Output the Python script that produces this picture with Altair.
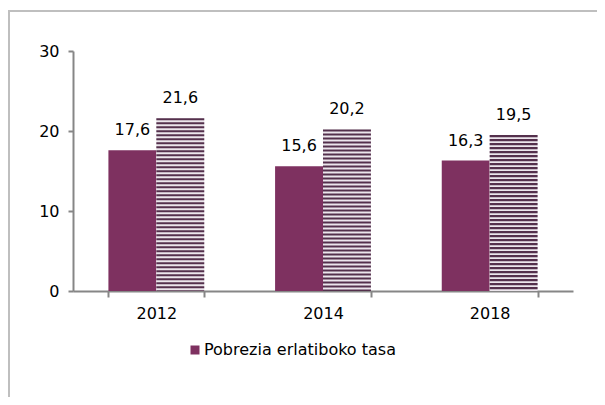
import altair as alt
import pandas as pd

years = ["2012", "2014", "2018"]
tasa = [17.6, 15.6, 16.3]
striped = [21.6, 20.2, 19.5]
legend_label = "Pobrezia erlatiboko tasa"
y_ticks = [0, 10, 20, 30]

PURPLE = "#7e3160"
STRIPE_DARK = "#54304c"
STRIPE_LIGHT = "#ece6ec"
FONT = "DejaVu Sans"
FS = 16


def fmt(v):
    return f"{v:.1f}".replace(".", ",")


solid_df = pd.DataFrame({
    "year": years, "value": tasa, "series": "A",
    "legend": legend_label, "label": [fmt(v) for v in tasa],
})
striped_df = pd.DataFrame({
    "year": years, "value": striped, "series": "B",
    "label": [fmt(v) for v in striped],
})

# stripe texture for the hatched series (derived from its values)
rows = []
for yr, v in zip(years, striped):
    top = v
    while top > 0:
        rows.append({"year": yr, "series": "B", "value": max(top - 0.27, 0), "y1": top})
        top -= 0.5
stripe_df = pd.DataFrame(rows)

x_scale = alt.Scale(domain=years, paddingInner=0.425, paddingOuter=0.2125)
xo_scale = alt.Scale(domain=["A", "B"], paddingInner=0, paddingOuter=0)
y_scale = alt.Scale(domain=[0, 30], nice=False)

x_axis = alt.Axis(title=None, labelAngle=0, tickBand="extent", grid=False,
                  domainColor="#868686", domainWidth=2, tickColor="#868686",
                  tickWidth=2, tickSize=6, labelFont=FONT, labelFontSize=FS,
                  labelColor="#000000", labelPadding=8)
y_axis = alt.Axis(title=None, values=y_ticks, grid=False,
                  domainColor="#868686", domainWidth=2, tickColor="#868686",
                  tickWidth=2, tickSize=5, labelFont=FONT, labelFontSize=FS,
                  labelColor="#000000", labelPadding=9)

X = alt.X("year:N", scale=x_scale, axis=x_axis, title=None)
XO = alt.XOffset("series:N", scale=xo_scale)
Y = alt.Y("value:Q", scale=y_scale, axis=y_axis, title=None)

solid = alt.Chart(solid_df).mark_bar(strokeWidth=0).encode(
    x=X, xOffset=XO, y=Y,
    color=alt.Color("legend:N", scale=alt.Scale(domain=[legend_label], range=[PURPLE]),
                    legend=alt.Legend(title=None, orient="none", legendX=114, legendY=291,
                                      symbolType="square", symbolSize=81,
                                      symbolStrokeWidth=0, labelFont=FONT,
                                      labelFontSize=FS, labelColor="#000000",
                                      labelOffset=1, padding=0, labelLimit=400)),
)

striped_bg = alt.Chart(striped_df).mark_bar(color=STRIPE_LIGHT, strokeWidth=0).encode(
    x=X, xOffset=XO, y=Y,
)

stripes = alt.Chart(stripe_df).mark_bar(color=STRIPE_DARK, strokeWidth=0).encode(
    x=X, xOffset=XO, y=Y, y2="y1:Q",
)

text_style = dict(dy=-20, baseline="middle", align="center", font=FONT, fontSize=FS, color="#000000")
solid_text = alt.Chart(solid_df).mark_text(**text_style).encode(
    x=X, xOffset=XO, y=Y, text="label:N",
)
striped_text = alt.Chart(striped_df).mark_text(**text_style).encode(
    x=X, xOffset=XO, y=Y, text="label:N",
)

frame_df = pd.DataFrame({"k": [0]})
frame_left = alt.Chart(frame_df).mark_rule(color="#bfbfbf", strokeWidth=2).encode(
    x=alt.value(-64), y=alt.value(-40), y2=alt.value(400),
)
frame_top = alt.Chart(frame_df).mark_rule(color="#bfbfbf", strokeWidth=2).encode(
    x=alt.value(-65), x2=alt.value(600), y=alt.value(-40),
)

chart = alt.layer(
    solid, striped_bg, stripes, solid_text, striped_text, frame_left, frame_top,
).properties(
    width=500, height=240,
    padding={"left": 65, "top": 43, "right": 24, "bottom": 106},
    autosize=alt.AutoSizeParams(type="none"),
).configure_view(stroke=None)

chart.save("out.html", embed_options={"renderer": "svg", "actions": False})
